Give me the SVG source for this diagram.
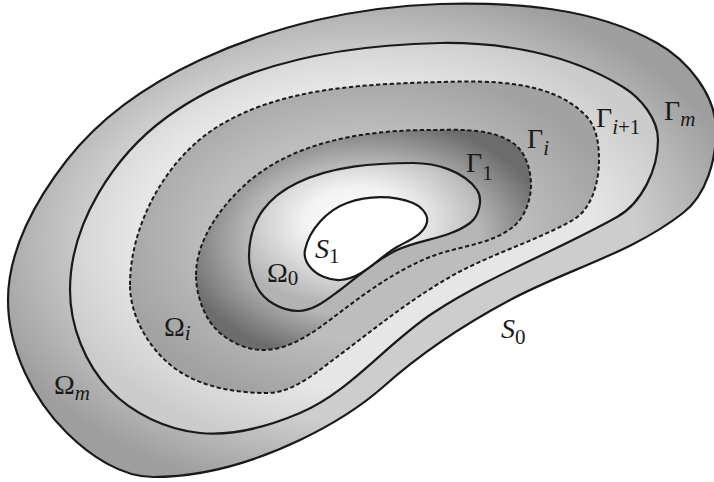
<svg xmlns="http://www.w3.org/2000/svg" width="714" height="482" viewBox="0 0 714 482">
<style>
.solid{stroke:#1a1a1a;stroke-width:2.2;stroke-linejoin:round}
.dash{stroke:#1a1a1a;stroke-width:2;stroke-dasharray:4.2 2.6}
.lbl{font-family:"Liberation Serif","Times New Roman",serif;font-size:28px;fill:#1a1a1a}
.it{font-style:italic}
.sub{font-size:21px}
</style>
<defs>
<radialGradient id="gOuter" cx="0.5" cy="0.5" r="0.55">
<stop offset="0.7" stop-color="#cdcdcd"/>
<stop offset="1" stop-color="#9e9e9e"/>
</radialGradient>
<radialGradient id="gM" cx="0.5" cy="0.5" r="0.55">
<stop offset="0.7" stop-color="#e6e6e6"/>
<stop offset="1" stop-color="#cbcbcb"/>
</radialGradient>
<radialGradient id="gI1" cx="0.5" cy="0.5" r="0.55">
<stop offset="0.6" stop-color="#bdbdbd"/>
<stop offset="1" stop-color="#a2a2a2"/>
</radialGradient>
<radialGradient id="gI" cx="0.5" cy="0.5" r="0.56">
<stop offset="0.62" stop-color="#b6b6b6"/>
<stop offset="1" stop-color="#6c6c6c"/>
</radialGradient>
<radialGradient id="g1" cx="0.47" cy="0.4" r="0.58">
<stop offset="0" stop-color="#ffffff"/>
<stop offset="0.4" stop-color="#f2f2f2"/>
<stop offset="1" stop-color="#b2b2b2"/>
</radialGradient>
</defs>
<rect width="714" height="482" fill="#ffffff"/>
<g id="curves">
<g id="S0">
<path class="solid" fill="url(#gOuter)" d="M 8,300 C 8,250 36,199.5 67,160 C 101,116.5 150.5,83 200,60 C 274,25.6 358,6.5 440,4 C 513,2 593.5,7 657,43 C 687.5,60 716,95 716,130 C 716,160 706.7,194.4 683,213 C 632,253 567,269.5 510,300 C 465,324 421,353 383,387 C 358,409 329.7,425.8 300,440 C 254.5,461.7 203.5,477 153,477 C 121,477 89.7,455.4 67,433 C 32.6,399 8,348.5 8,300 Z"/>
</g>
<g id="Gamma_m">
<path class="solid" fill="url(#gM)" d="M 70,290 C 70,224 113.5,156 167,117 C 243,61.5 346,45 440,43 C 503,42 569.5,54 623,87 C 641,98 658,119 658,140 C 658,169 642,203 617,217 C 557,250.8 491,275 433,313 C 387,343 350.6,391.5 300,413 C 268.7,426.3 233.8,436.4 200,433 C 167,429.7 132.8,413.8 110,390 C 85,364 70,326 70,290 Z"/>
</g>
<g id="Gamma_i1">
<path class="dash" fill="url(#gI1)" d="M 130,285 C 130,225 166,159 217,127 C 281.6,87 364,84.3 440,82 C 490,80.5 553.5,80 587,117 C 597,128 599,145 599,160 C 599,182 592,209 573,220 C 534,242 489,254.5 450,277 C 408,301 371.4,331.2 333,360 C 313.3,374.8 291.6,393 267,393 C 234.5,393 198.7,386.8 173,367 C 148.5,348 130,316 130,285 Z"/>
</g>
<g id="Gamma_i">
<path class="dash" fill="url(#gI)" d="M 196,275 C 196,240 221,206 247,183 C 294.6,141 366.5,130 430,130 C 458,130 489.8,127.3 513,143 C 525.5,151.4 531,170 531,185 C 531,200 524.7,217.7 513,227 C 490,245.2 457.3,246.1 430,257 C 400.2,268.8 372.6,287.8 347,307 C 321.8,325.9 294.5,350 263,350 C 241.3,350 217.4,336 207,317 C 200,304.2 196,289.5 196,275 Z"/>
</g>
<g id="Gamma_1">
<path class="solid" fill="url(#g1)" d="M 249,257 C 249,240.7 253.4,223 263,210 C 271.6,198.4 284,189.2 297,183 C 332,166.2 374,163 413,163 C 436,163 464,171 477,190 C 483.3,199.3 479,216.3 470,223 C 449.2,238.6 420.4,239.1 397,250 C 376.1,259.7 358.6,276.1 340,290 C 327.5,299.4 313.7,311 298,311 C 282.2,311 264.1,301.2 257,287 C 252.4,277.7 249,267.3 249,257 Z"/>
</g>
<g id="S1">
<path class="solid" fill="#ffffff" d="M 305,250 C 309.2,229.4 327.3,210.1 347,203 C 367.7,195.5 392.5,194.9 413,203 C 420.3,205.9 428.6,214.1 427,222 C 424.4,234.7 408.3,240.5 397,247 C 377.9,258 362,278.9 340,280 C 329.1,280.5 316.9,275.4 310,267 C 306.3,262.5 303.8,255.8 305,250 Z"/>
</g>
</g>
<g id="labels">
<text class="lbl" x="664" y="119.5">Γ<tspan class="sub it" dy="6.5">m</tspan></text>
<text class="lbl" x="596" y="127.3">Γ<tspan class="sub it" dy="6.7">i</tspan><tspan class="sub">+1</tspan></text>
<text class="lbl" x="527" y="148.3">Γ<tspan class="sub it" dy="6.7">i</tspan></text>
<text class="lbl" x="466" y="171.7">Γ<tspan class="sub" dy="8">1</tspan></text>
<text class="lbl it" x="315" y="258">S<tspan class="sub" font-style="normal" dy="5">1</tspan></text>
<text class="lbl" x="267" y="281.7">Ω<tspan class="sub" dy="3.5">0</tspan></text>
<text class="lbl" x="164" y="336">Ω<tspan class="sub it" dy="4">i</tspan></text>
<text class="lbl" x="54" y="394">Ω<tspan class="sub it" dy="6">m</tspan></text>
<text class="lbl it" x="501" y="338">S<tspan class="sub" font-style="normal" dy="6">0</tspan></text>
</g>
</svg>
